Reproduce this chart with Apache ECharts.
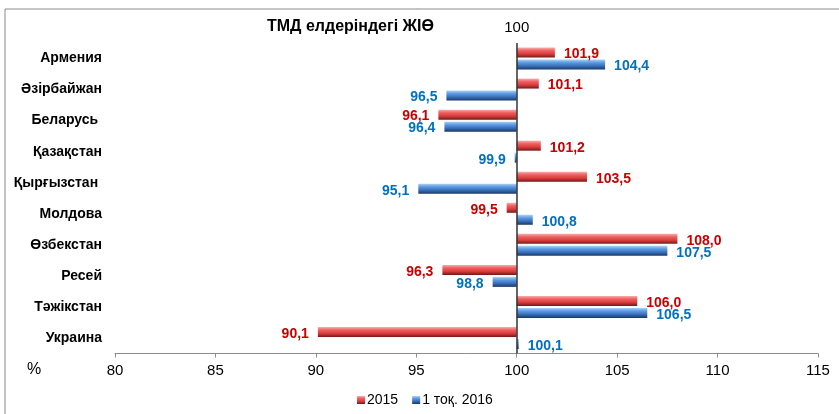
<!DOCTYPE html>
<html>
<head>
<meta charset="utf-8">
<script src="https://cdn.jsdelivr.net/npm/echarts@6/dist/echarts.min.js"></script>
<style>
html,body{margin:0;padding:0;background:#fff;}
#chart{width:839px;height:414px;}
</style>
</head>
<body>
<div id="chart"></div>
<script>
const title = 'ТМД елдеріндегі ЖІӨ';
const categories = ['Армения', 'Әзірбайжан', 'Беларусь ', 'Қазақстан', 'Қырғызстан ', 'Молдова', 'Өзбекстан', 'Ресей', 'Тәжікстан', 'Украина'];
const seriesNames = ['2015', '1 тоқ. 2016'];
const values2015 = [101.9, 101.1, 96.1, 101.2, 103.5, 99.5, 108.0, 96.3, 106.0, 90.1];
const values2016 = [104.4, 96.5, 96.4, 99.9, 95.1, 100.8, 107.5, 98.8, 106.5, 100.1];
const baseline = 100;
const axisMin = 80, axisMax = 115, axisStep = 5;
const unitLabel = '%';

const font = '"Liberation Sans", Arial, sans-serif';
const chart = echarts.init(document.getElementById('chart'));

function fmt(v){ return v.toFixed(1).replace('.', ','); }

function grad(top, light, mid, dark){
  return new echarts.graphic.LinearGradient(0,0,0,1,[
    {offset:0, color: light},
    {offset:0.3, color: top},
    {offset:0.65, color: mid},
    {offset:1, color: dark}
  ]);
}
const redFill = grad('#f06060', '#f8b0b0', '#d83c3c', '#741818');
const blueFill = grad('#5c9ce4', '#b0d2f4', '#386fb8', '#1a3763');

function makeSeries(name, vals, fill, labelColor, withLine){
  const s = {
    name: name,
    type: 'bar',
    barWidth: 10,
    barGap: '20%',
    itemStyle: { color: fill },
    data: vals.map(v => ({
      value: +(v - baseline).toFixed(4),
      label: { position: v >= baseline ? 'right' : 'left' }
    })),
    label: {
      show: true,
      distance: 9,
      offset: [0, 2],
      color: labelColor,
      fontFamily: font,
      fontWeight: 'bold',
      fontSize: 14,
      formatter: p => fmt(vals[p.dataIndex])
    }
  };
  if (withLine){
    s.markLine = {
      silent: true,
      symbol: ['none','none'],
      lineStyle: { color: '#333', width: 1.5, type: 'solid' },
      label: { show: true, position: 'start', formatter: String(baseline), color: '#000', fontFamily: font, fontSize: 15, distance: 8 },
      data: [{ xAxis: 0 }]
    };
  }
  return s;
}

chart.setOption({
  animation: false,
  backgroundColor: '#fff',
  textStyle: { fontFamily: font },
  graphic: [
    { type: 'rect', shape: { x: 5, y: 9, width: 860, height: 440 }, style: { fill: 'none', stroke: '#8a8a8a', lineWidth: 1 }, silent: true },
    { type: 'text', left: 267, top: 19, style: { text: title, font: 'bold 16px ' + font, fill: '#000' } },
    { type: 'text', left: 27, top: 362, style: { text: unitLabel, font: '16px ' + font, fill: '#000' } }
  ],
  legend: {
    data: seriesNames,
    left: 352,
    top: 388,
    itemWidth: 8,
    itemHeight: 8,
    itemGap: 14,
    icon: 'rect',
    textStyle: { fontFamily: font, fontSize: 14, color: '#000', padding: [0,0,0,-3] }
  },
  grid: { left: 115, right: 21, top: 43, bottom: 60.5, containLabel: false },
  xAxis: {
    type: 'value',
    min: axisMin - baseline,
    max: axisMax - baseline,
    interval: axisStep,
    axisLine: { show: true, onZero: false, lineStyle: { color: '#8c8c8c', width: 1 } },
    axisTick: { show: true, length: 4, lineStyle: { color: '#8c8c8c' } },
    splitLine: { show: false },
    axisLabel: { color: '#000', fontSize: 15, fontFamily: font, margin: 10, formatter: v => String(v + baseline) }
  },
  yAxis: {
    type: 'category',
    inverse: true,
    data: categories,
    axisLine: { show: false },
    axisTick: { show: false },
    axisLabel: { color: '#000', fontSize: 14, fontWeight: 'bold', fontFamily: font, margin: 13 }
  },
  series: [
    makeSeries(seriesNames[0], values2015, redFill, '#c80000', true),
    makeSeries(seriesNames[1], values2016, blueFill, '#0070c0', false)
  ]
});
</script>
</body>
</html>
